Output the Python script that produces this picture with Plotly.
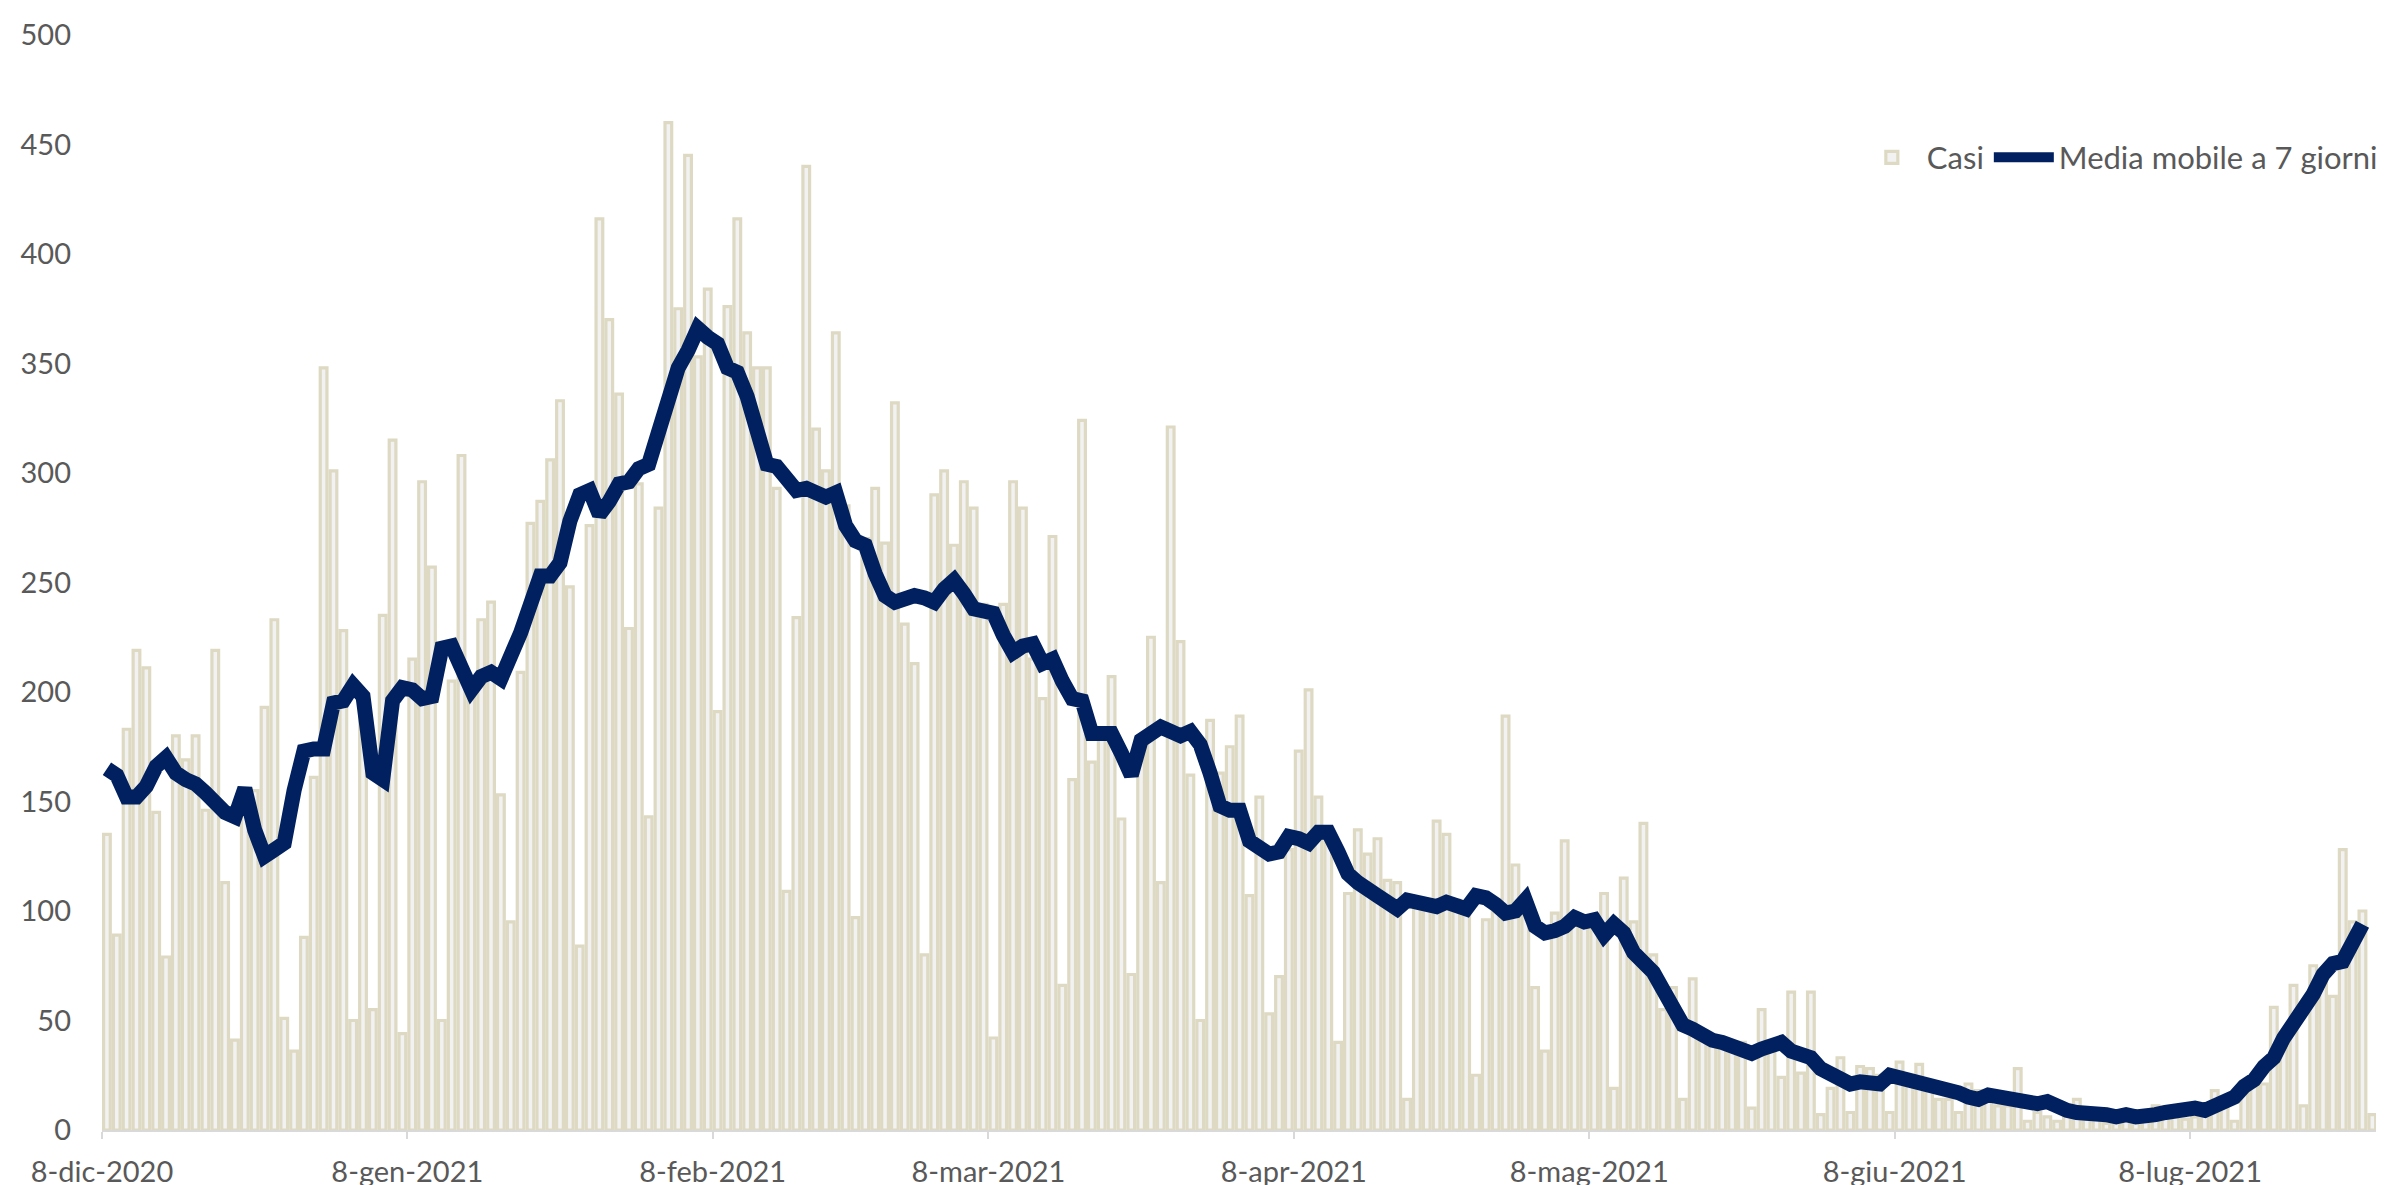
import pandas as pd
import plotly.graph_objects as go

# Daily cases, starting 8-dic-2020 (one value per day)
casi = [
    135, 89, 183, 219, 211, 145, 79, 180, 169, 180,
    146, 219, 113, 41, 145, 155, 193, 233, 51, 36,
    88, 161, 348, 301, 228, 50, 194, 55, 235, 315,
    44, 215, 296, 257, 50, 205, 308, 200, 233, 241,
    153, 95, 209, 277, 287, 306, 333, 248, 84, 276,
    416, 370, 336, 229, 295, 143, 284, 460, 375, 445,
    353, 384, 191, 376, 416, 364, 348, 348, 293, 109,
    234, 440, 320, 301, 364, 285, 97, 270, 293, 268,
    332, 231, 213, 80, 290, 301, 267, 296, 284, 240,
    42, 240, 296, 284, 215, 197, 271, 66, 160, 324,
    168, 180, 207, 142, 71, 180, 225, 113, 321, 223,
    162, 50, 187, 163, 175, 189, 107, 152, 53, 70,
    128, 173, 201, 152, 137, 40, 108, 137, 126, 133,
    114, 113, 14, 105, 104, 141, 135, 105, 102, 25,
    96, 103, 189, 121, 105, 65, 36, 99, 132, 95,
    96, 92, 108, 19, 115, 95, 140, 80, 55, 65,
    14, 69, 45, 40, 42, 38, 40, 10, 55, 40,
    24, 63, 26, 63, 7, 19, 33, 8, 29, 28,
    25, 8, 31, 24, 30, 19, 14, 14, 8, 21,
    18, 16, 11, 11, 28, 4, 8, 6, 4, 9,
    14, 5, 5, 3, 5, 5, 8, 5, 11, 6,
    6, 5, 6, 8, 18, 11, 4, 21, 24, 21,
    56, 38, 66, 11, 75, 68, 61, 128, 95, 100,
    7, 114, 144,
]

# 7-day moving average (starts 8-dic-2020)
media_mobile = [
    165, 162, 152, 152, 157, 166, 170, 163, 160, 158,
    154, 149, 145, 143, 156, 137, 125, 128, 131, 155,
    173, 174, 174, 195, 196, 203, 198, 163, 160, 196,
    202, 201, 197, 198, 220, 221, 212, 201, 207, 209,
    206, 215, 227, 240, 253, 253, 259, 278, 290, 292,
    281, 287, 295, 296, 302, 304, 318, 336, 348, 356,
    366, 362, 359, 348, 346, 335, 322, 304, 303, 296,
    292, 293, 290, 289, 291, 276, 269, 267, 254, 244,
    241, 243, 244, 243, 241, 247, 251, 245, 238, 237,
    236, 226, 218, 221, 222, 213, 215, 205, 197, 196,
    181, 181, 181, 172, 162, 178, 181, 184, 182, 180,
    182, 176, 163, 148, 146, 146, 132, 128, 126, 127,
    134, 133, 131, 136, 136, 127, 117, 113, 109, 107,
    104, 101, 105, 104, 103, 102, 104, 102, 101, 107,
    106, 103, 99, 100, 105, 93, 90, 91, 93, 97,
    95, 96, 89, 94, 90, 81, 77, 72, 64, 54,
    48, 46, 43, 41, 40, 38, 36, 35, 37, 39,
    40, 36, 34, 33, 28, 26, 24, 21, 22, 22,
    21, 25, 24, 23, 22, 21, 20, 19, 17, 15,
    14, 16, 15, 14, 13, 12, 12, 13, 10, 9,
    8, 8, 8, 7, 6, 7, 6, 6, 7, 8,
    9, 9, 10, 9, 11, 12, 15, 20, 23, 29,
    33, 42, 49, 53, 62, 71, 76, 77, 84, 94,
]

tick_vals = ["2020-12-07 12:00", "2021-01-07 12:00", "2021-02-07 12:00",
             "2021-03-07 12:00", "2021-04-07 12:00", "2021-05-07 12:00",
             "2021-06-07 12:00", "2021-07-07 12:00"]
tick_text = ["8-dic-2020", "8-gen-2021", "8-feb-2021", "8-mar-2021",
             "8-apr-2021", "8-mag-2021", "8-giu-2021", "8-lug-2021"]

date = pd.date_range("2020-12-08", periods=len(casi), freq="D")

FONT = "Lato"
TXT = "#595959"

fig = go.Figure()
fig.add_trace(go.Bar(
    x=date, y=casi, name="Casi",
    marker=dict(color="#F2F2F2", line=dict(color="#DDD9C3", width=3.2)),
))
fig.add_trace(go.Scatter(
    x=date[:len(media_mobile)], y=media_mobile, name="Media mobile a 7 giorni",
    mode="lines", line=dict(color="#002060", width=15),
))

fig.update_layout(
    width=2384, height=1185,
    margin=dict(l=94, r=0, t=27, b=63),
    paper_bgcolor="white", plot_bgcolor="white",
    bargap=0.32,
    font=dict(family=FONT, size=29, color=TXT),
    showlegend=True,
    legend=dict(orientation="h", x=0.996, xanchor="right", y=0.888, yanchor="middle",
                font=dict(family=FONT, size=31, color=TXT), bgcolor="rgba(0,0,0,0)",
                itemwidth=60, traceorder="normal"),
)
fig.update_xaxes(
    type="date",
    range=["2020-12-07 12:00", "2021-07-28 00:00"],
    tickmode="array", tickvals=tick_vals, ticktext=tick_text,
    showline=True, linecolor="#D9D9D9", linewidth=2,
    ticks="outside", ticklen=7, tickwidth=2, tickcolor="#D9D9D9",
    showgrid=False, zeroline=False,
    tickfont=dict(family=FONT, size=29, color=TXT),
    ticklabelstandoff=8,
)
fig.update_yaxes(
    range=[0, 500], dtick=50, tick0=0,
    showline=False, showgrid=False, zeroline=False,
    ticks="", ticklabelstandoff=30,
    tickfont=dict(family=FONT, size=29, color=TXT),
)

fig.write_html("out.html")
